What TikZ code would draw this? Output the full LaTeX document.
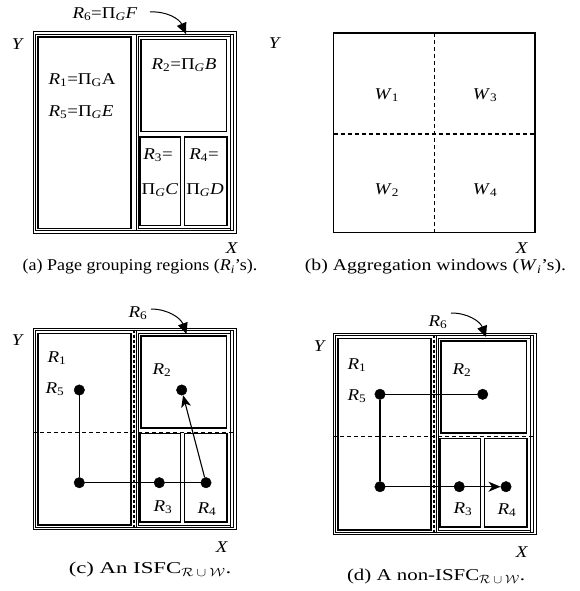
\documentclass[tikz,border=0pt]{standalone}
\usepackage{fontspec}
\usepackage{graphicx}
\setmainfont[FakeStretch=1.15]{Liberation Serif}
\usetikzlibrary{arrows.meta}
\newcommand\Rv[1]{\textit{R}\textsubscript{#1}}
\newcommand\Wv[1]{\textit{W}\textsubscript{#1}}
\newcommand\PiG{Π\textsubscript{\textit{G}}}
\newcommand\myregionset{%
  % outer frame: double line
  \draw[thinl] (33,31.5) rectangle (236,233);
  \draw[thinl] (35.5,34) rectangle (233.5,230.5);
  % R1
  \draw[regl] (38,37) rectangle (131,228.5);
  % right container
  \draw[thinl] (136.5,34) rectangle (230.5,230.5);
  \draw[thinl] (138.5,36.5) rectangle (230.5,228.5);
  % R2, R3, R4
  \draw[regl] (141,39.5) rectangle (226.5,131.5);
  \draw[regl] (140,137) rectangle (180.5,225.5);
  \draw[regl] (184.5,137) rectangle (227,225.5);
}
\tikzset{
  thinl/.style={draw, line width=0.7pt},
  regl/.style={draw, line width=1.1pt},
  lbl/.style={inner sep=0pt, anchor=center},
  dot/.style={circle, fill=black, draw=black, inner sep=0pt, minimum size=10.5pt},
  conn/.style={line width=1.1pt},
  dsh/.style={line width=1.1pt, dash pattern=on 4pt off 3pt},
  vdsh/.style={line width=1.6pt, dash pattern=on 3pt off 2pt},
  bendarrow/.style={line width=1pt, -{Triangle[length=11pt,width=10pt]}},
  tiparrow/.style={conn, -{Stealth[length=12pt,width=10pt,inset=3.5pt]}},
}
\begin{document}
\begin{tikzpicture}[x=1pt,y=-1pt,font=\fontsize{16.5}{19.5}\selectfont]
\useasboundingbox[fill=white] (0,0) rectangle (580,591);

% ---------------- (a) ----------------
\begin{scope}
  \myregionset
\end{scope}
\node[lbl] (r6a) at (105,14) {\Rv{6}=\PiG\textit{F}};
\coordinate (s6a) at (150,12);
\coordinate (t6a) at (186,34);
\draw[bendarrow] (s6a) to[bend left=35] (t6a);
\node[lbl] (r1a) at (82,80) {\Rv{1}=Π\textsubscript{G}A};
\node[lbl] (r5a) at (81,112) {\Rv{5}=\PiG\textit{E}};
\node[lbl] (r2a) at (184,65) {\Rv{2}=\PiG\textit{B}};
\node[lbl] (r3a) at (158,155) {\Rv{3}=};
\node[lbl] (c3a) at (160,190) {\PiG\textit{C}};
\node[lbl] (r4a) at (204,155) {\Rv{4}=};
\node[lbl] (d4a) at (205,190) {\PiG\textit{D}};
\node[lbl] (ya) at (18,44) {\textit{Y}};
\node[lbl] (xa) at (232,248) {\textit{X}};
\node[lbl] (capa) at (140,267) {\scalebox{0.95}[1]{(a) Page grouping regions (\textit{R}\textsubscript{\textit{i}}’s).}};

% ---------------- (b) ----------------
\draw[line width=1.2pt] (333.5,33) rectangle (535,232.5);
\coordinate (bvt) at (434.3,33);
\coordinate (bvb) at (434.3,232.5);
\coordinate (bhl) at (333.5,134);
\coordinate (bhr) at (535,134);
\draw[dsh] (bvt) -- (bvb);
\draw[dsh] (bhl) -- (bhr);
\node[lbl] (w1) at (386.7,95) {\Wv{1}};
\node[lbl] (w3) at (485,95) {\Wv{3}};
\node[lbl] (w2) at (386.7,190) {\Wv{2}};
\node[lbl] (w4) at (485,190) {\Wv{4}};
\node[lbl] (yb) at (275,43) {\textit{Y}};
\node[lbl] (xb) at (522,248) {\textit{X}};
\node[lbl] (capb) at (435.5,267) {\scalebox{1.04}[1]{(b) Aggregation windows (\textit{W}\textsubscript{\textit{i}}’s).}};

% ---------------- (c) ----------------
\begin{scope}[shift={(0,296.5)}]
  \myregionset
  \coordinate (chl) at (33,136.2);
  \coordinate (chr) at (236,136.2);
  \coordinate (cvt) at (134,33);
  \coordinate (cvb) at (134,232);
  \draw[dsh] (chl) -- (chr);
  \draw[vdsh] (cvt) -- (cvb);
\end{scope}
\node[lbl] (r6c) at (138,313) {\Rv{6}};
\coordinate (s6c) at (151,309);
\coordinate (t6c) at (186.5,334);
\draw[bendarrow] (s6c) to[bend left=35] (t6c);
\node[lbl] (r1c) at (57,358) {\Rv{1}};
\node[lbl] (r5c) at (55,389) {\Rv{5}};
\node[lbl] (r2c) at (162,370) {\Rv{2}};
\node[lbl] (r3c) at (163,507) {\Rv{3}};
\node[lbl] (r4c) at (207,509) {\Rv{4}};
\node[dot] (p5c) at (79.3,390) {};
\node[dot] (pbc) at (79.3,482.7) {};
\node[dot] (p3c) at (159.3,482.7) {};
\node[dot] (p4c) at (206,482.7) {};
\node[dot] (p2c) at (181.7,390) {};
\draw[conn] (p5c) -- (pbc);
\draw[conn] (pbc) -- (p3c);
\draw[conn] (p3c) -- (p4c);
\draw[tiparrow] (p4c) -- (p2c);
\node[lbl] (yc) at (18,340) {\textit{Y}};
\node[lbl] (xc) at (222,547) {\textit{X}};
\node[lbl] (capc) at (150,570) {\scalebox{1.2}[1]{(c) An ISFC\textsubscript{$\mathcal{R}\cup\mathcal{W}$}.}};

% ---------------- (d) ----------------
\begin{scope}[shift={(300,301.5)}]
  \myregionset
  \coordinate (dhl) at (33,135.2);
  \coordinate (dhr) at (236,135.2);
  \coordinate (dvt) at (134,33);
  \coordinate (dvb) at (134,232);
  \draw[dsh] (dhl) -- (dhr);
  \draw[vdsh] (dvt) -- (dvb);
\end{scope}
\node[lbl] (r6d) at (438,322) {\Rv{6}};
\coordinate (s6d) at (451,313);
\coordinate (t6d) at (486,337);
\draw[bendarrow] (s6d) to[bend left=35] (t6d);
\node[lbl] (r1d) at (357,365) {\Rv{1}};
\node[lbl] (r5d) at (357,396) {\Rv{5}};
\node[lbl] (r2d) at (462,370) {\Rv{2}};
\node[lbl] (r3d) at (463,509) {\Rv{3}};
\node[lbl] (r4d) at (507,510) {\Rv{4}};
\node[dot] (p5d) at (380,394.3) {};
\node[dot] (p2d) at (482.7,394.3) {};
\node[dot] (pbd) at (380,486.7) {};
\node[dot] (p3d) at (459.3,486.7) {};
\node[dot] (p4d) at (506,486.7) {};
\draw[conn] (p5d) -- (p2d);
\draw[conn] (p5d) -- (pbd);
\draw[conn] (pbd) -- (p3d);
\draw[tiparrow] (p3d) -- (p4d);
\node[lbl] (yd) at (320,346) {\textit{Y}};
\node[lbl] (xd) at (522,552) {\textit{X}};
\node[lbl] (capd) at (436,577) {\scalebox{1.1}[1]{(d) A non-ISFC\textsubscript{$\mathcal{R}\cup\mathcal{W}$}.}};
\end{tikzpicture}
\end{document}
